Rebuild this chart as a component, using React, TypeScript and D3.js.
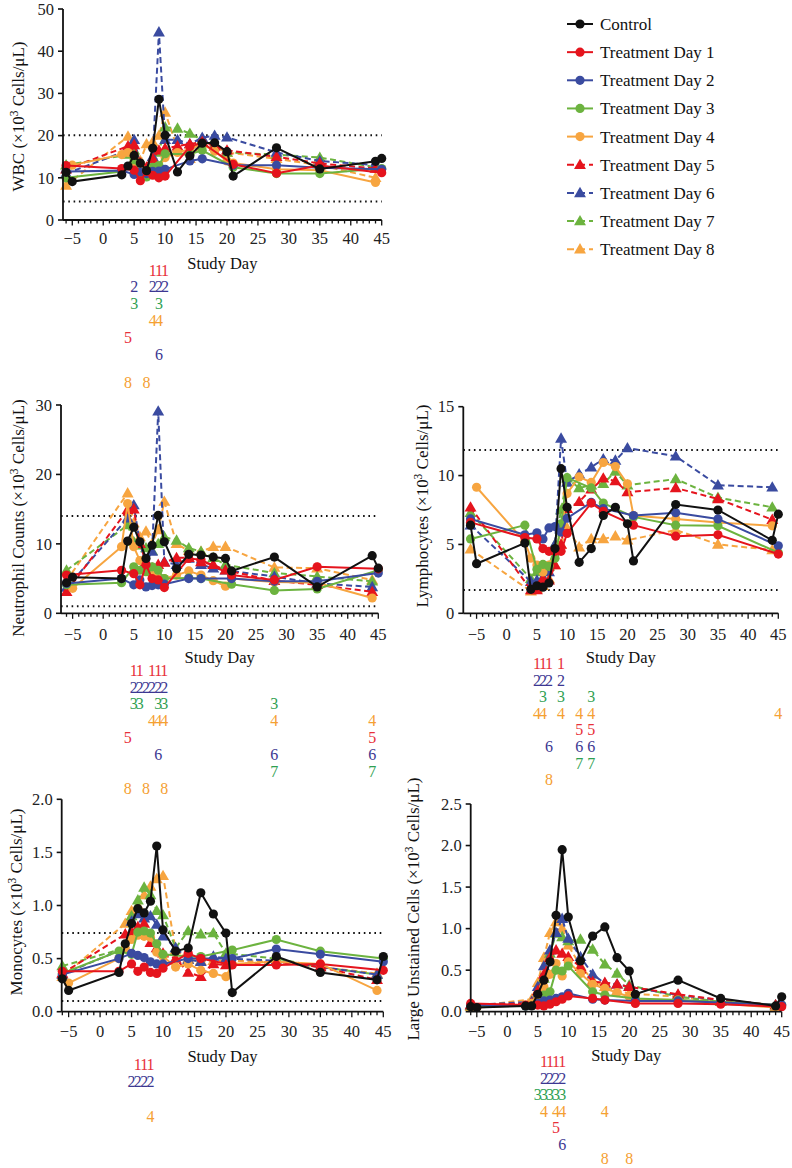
import * as d3 from "d3";

// series: control + 8 treatment groups
const SERIES = [
  { label: "Control", color: "#111111", digit: "#111111", dashed: false, tri: false },
  { label: "Treatment Day 1", color: "#e5141d", digit: "#e8303a", dashed: false, tri: false },
  { label: "Treatment Day 2", color: "#3a4ba0", digit: "#3c3791", dashed: false, tri: false },
  { label: "Treatment Day 3", color: "#6cb33f", digit: "#2f9f52", dashed: false, tri: false },
  { label: "Treatment Day 4", color: "#f7a540", digit: "#f5a032", dashed: false, tri: false },
  { label: "Treatment Day 5", color: "#e5141d", digit: "#e8303a", dashed: true, tri: true },
  { label: "Treatment Day 6", color: "#3a4ba0", digit: "#3c3791", dashed: true, tri: true },
  { label: "Treatment Day 7", color: "#6cb33f", digit: "#2f9f52", dashed: true, tri: true },
  { label: "Treatment Day 8", color: "#f7a540", digit: "#f5a032", dashed: true, tri: true },
];

// sampling days
const DAYS_CTRL = [-6, -5, 3, 4, 5, 6, 7, 8, 9, 10, 12, 14, 16, 18, 20, 21, 28, 35, 44, 45];
const DAYS_A = [-6, 3, 5, 6, 7, 8, 9, 10, 14, 16, 21, 28, 35, 45];
const DAYS_T4 = [-5, 3, 4, 5, 6, 7, 8, 9, 10, 12, 14, 16, 18, 20, 21, 28, 35, 44];
const DAYS_B = [-6, 4, 5, 6, 7, 8, 9, 10, 12, 14, 16, 18, 20, 28, 35, 44];
const SERIES_DAYS = [DAYS_CTRL, DAYS_A, DAYS_A, DAYS_A, DAYS_T4, DAYS_B, DAYS_B, DAYS_B, DAYS_B];

const X_TICKS = [-5, 0, 5, 10, 15, 20, 25, 30, 35, 40, 45];

// WBC
const WBC = [
  [11.3, 9.1, 10.7, 12.8, 15.3, 13.5, 11.7, 17.0, 28.6, 20.1, 11.4, 15.2, 18.2, 18.3, 16.2, 10.4, 17.1, 12.1, 13.9, 14.6],
  [12.9, 12.2, 11.8, 9.3, 11.5, 10.6, 10.0, 10.4, 17.4, 18.3, 13.2, 11.1, 12.9, 11.2],
  [11.5, 11.7, 10.8, 11.4, 11.0, 11.5, 11.6, 12.0, 14.0, 14.5, 13.0, 13.0, 12.4, 12.0],
  [10.0, 11.5, 14.3, 11.0, 10.2, 12.5, 12.9, 15.7, 15.6, 16.5, 12.5, 11.0, 11.0, 12.2],
  [13.0, 15.5, 16.0, 13.8, 12.3, 11.5, 11.8, 12.5, 14.8, 16.0, 16.8, 18.0, 16.3, 14.0, 13.5, 12.0, 11.8, 8.9],
  [12.0, 17.5, 17.8, 13.5, 12.5, 14.5, 16.5, 17.0, 17.5, 18.0, 18.5, 17.5, 16.5, 15.0, 13.4, 12.2],
  [11.0, 16.5, 19.0, 13.0, 12.0, 15.0, 44.5, 19.0, 19.0, 18.0, 19.5, 20.0, 19.6, 16.0, 14.0, 13.0],
  [13.0, 15.5, 16.5, 13.0, 12.0, 12.5, 16.0, 22.0, 21.7, 20.5, 19.0, 18.0, 16.0, 15.5, 14.8, 12.5],
  [8.2, 19.8, 16.0, 14.0, 18.0, 18.5, 20.0, 25.5, 17.0, 14.5, 18.2, 17.5, 16.0, 14.5, 13.0, 10.0],
];
const WBC_REF = [20.1, 4.4];
const WBC_TICKS = [0, 10, 20, 30, 40, 50];
const WBC_SIG = [[8, 9, 10], [5, 8, 9, 10], [5, 9], [8, 9], [4], [9], [], [4, 7]];

// Neutrophils
const NEU = [
  [4.4, 5.2, 5.0, 10.4, 12.4, 10.3, 7.9, 9.8, 14.1, 10.3, 6.4, 8.5, 8.4, 8.1, 7.9, 6.1, 8.1, 3.8, 8.3, 6.5],
  [5.5, 6.2, 5.7, 4.1, 7.0, 5.0, 4.8, 3.7, 7.9, 7.7, 5.5, 4.8, 6.7, 6.4],
  [4.3, 5.0, 4.1, 4.8, 3.8, 4.0, 4.1, 4.2, 5.0, 5.0, 5.0, 4.6, 4.6, 5.8],
  [4.1, 4.4, 6.7, 6.2, 6.0, 6.7, 6.2, 5.0, 5.1, 5.0, 4.2, 3.3, 3.5, 6.2],
  [3.6, 9.6, 15.8, 9.6, 7.6, 6.5, 5.5, 5.2, 5.0, 5.5, 6.1, 5.5, 4.7, 3.9, 5.0, 4.5, 4.4, 2.2],
  [3.1, 14.9, 15.0, 10.0, 7.4, 6.5, 7.0, 7.3, 8.0, 8.0, 7.4, 7.0, 6.2, 4.7, 4.1, 3.1],
  [3.7, 13.7, 15.6, 10.0, 7.4, 8.9, 29.1, 7.4, 7.0, 7.9, 7.0, 6.5, 6.2, 5.3, 4.3, 3.8],
  [6.2, 12.7, 10.3, 9.8, 9.4, 9.0, 10.0, 11.0, 10.5, 9.4, 8.9, 8.0, 7.0, 5.8, 5.3, 4.6],
  [4.7, 17.3, 13.0, 11.0, 11.8, 10.0, 12.0, 16.1, 10.0, 9.0, 8.9, 9.6, 9.6, 6.6, 6.5, 4.8],
];
const NEU_REF = [14.0, 1.0];
const NEU_TICKS = [0, 10, 20, 30];
const NEU_SIG = [[5, 6, 8, 9, 10], [5, 6, 7, 8, 9, 10], [5, 6, 9, 10, 28], [8, 9, 10, 28, 44], [4, 44], [9, 28, 44], [28, 44], [4, 7, 10]];

// Lymphocytes
const LYM = [
  [6.4, 3.6, 5.1, 1.74, 2.0, 1.9, 2.2, 4.7, 10.5, 7.7, 3.7, 4.7, 7.1, 7.7, 6.5, 3.8, 7.9, 7.5, 5.3, 7.2],
  [6.6, 5.5, 5.4, 4.7, 4.5, 4.5, 4.5, 5.8, 8.0, 7.4, 6.4, 5.6, 5.7, 4.3],
  [6.85, 5.7, 5.85, 5.4, 6.2, 6.3, 5.9, 6.9, 8.05, 7.6, 7.1, 7.3, 6.85, 4.9],
  [5.4, 6.4, 3.2, 3.55, 3.4, 4.0, 6.5, 9.85, 9.1, 8.0, 7.0, 6.4, 6.35, 4.4],
  [9.15, 5.2, 4.0, 3.5, 3.0, 3.5, 4.5, 6.0, 8.7, 9.9, 9.5, 10.95, 10.65, 9.4, 7.1, 6.85, 6.6, 6.35],
  [7.7, 1.7, 1.7, 2.5, 2.4, 3.5, 5.0, 7.6, 8.1, 9.0, 9.8, 9.6, 8.8, 9.1, 8.3, 6.8],
  [6.4, 2.3, 2.4, 2.6, 3.0, 5.0, 12.7, 9.5, 10.1, 10.6, 11.2, 11.1, 12.0, 11.4, 9.3, 9.15],
  [7.3, 2.5, 3.0, 3.2, 3.4, 5.0, 7.5, 9.8, 9.1, 9.3, 9.4, 10.3, 9.3, 9.75, 8.4, 7.7],
  [4.65, 1.6, 1.8, 2.0, 2.5, 3.5, 5.0, 6.2, 4.8, 5.4, 5.4, 5.6, 5.3, 6.05, 5.0, 4.6],
];
const LYM_REF = [11.85, 1.7];
const LYM_TICKS = [0, 5, 10, 15];
const LYM_SIG = [[5, 6, 7, 9], [5, 6, 7, 9], [6, 9, 14], [5, 6, 9, 12, 14, 45], [12, 14], [7, 12, 14], [12, 14], [7]];

// Monocytes
const MON = [
  [0.31, 0.2, 0.37, 0.64, 0.83, 0.97, 0.93, 1.04, 1.56, 0.77, 0.57, 0.6, 1.12, 0.92, 0.74, 0.18, 0.52, 0.37, 0.3, 0.52],
  [0.38, 0.38, 0.45, 0.38, 0.42, 0.37, 0.36, 0.41, 0.55, 0.5, 0.44, 0.44, 0.45, 0.39],
  [0.35, 0.5, 0.55, 0.53, 0.51, 0.47, 0.45, 0.45, 0.5, 0.5, 0.5, 0.59, 0.54, 0.47],
  [0.36, 0.57, 0.54, 0.75, 0.76, 0.74, 0.64, 0.54, 0.52, 0.52, 0.58, 0.68, 0.57, 0.5],
  [0.27, 0.5, 0.6, 0.68, 0.72, 0.71, 0.7, 0.56, 0.52, 0.42, 0.45, 0.39, 0.36, 0.33, 0.45, 0.47, 0.45, 0.2],
  [0.36, 0.73, 0.75, 0.8, 0.83, 0.65, 0.6, 0.55, 0.5, 0.37, 0.33, 0.45, 0.44, 0.47, 0.42, 0.3],
  [0.35, 0.6, 0.85, 0.92, 0.88, 0.9, 0.82, 0.71, 0.6, 0.49, 0.47, 0.52, 0.5, 0.48, 0.42, 0.35],
  [0.43, 0.6, 0.9, 1.05, 1.17, 1.1, 0.95, 0.91, 0.6, 0.76, 0.73, 0.74, 0.55, 0.5, 0.42, 0.35],
  [0.33, 0.83, 0.95, 1.0, 1.1, 1.18, 1.25, 1.28, 0.58, 0.5, 0.48, 0.48, 0.48, 0.47, 0.42, 0.36],
];
const MON_REF = [0.74, 0.1];
const MON_TICKS = [0, 0.5, 1.0, 1.5, 2.0];
const MON_SIG = [[6, 7, 8], [5, 6, 7, 8], [], [8], [], [], [], []];

// Large unstained cells
const LUC = [
  [0.06, 0.05, 0.07, 0.07, 0.21, 0.38, 0.6, 1.16, 1.95, 1.14, 0.61, 0.91, 1.02, 0.65, 0.49, 0.21, 0.38, 0.16, 0.07, 0.18],
  [0.1, 0.08, 0.08, 0.07, 0.09, 0.12, 0.15, 0.19, 0.16, 0.14, 0.1, 0.1, 0.09, 0.06],
  [0.08, 0.07, 0.1, 0.13, 0.14, 0.16, 0.18, 0.22, 0.15, 0.14, 0.13, 0.13, 0.11, 0.08],
  [0.07, 0.07, 0.1, 0.2, 0.24, 0.5, 0.49, 0.55, 0.24, 0.2, 0.16, 0.14, 0.12, 0.08],
  [0.05, 0.08, 0.1, 0.15, 0.3, 0.45, 0.58, 0.43, 0.6, 0.46, 0.33, 0.28, 0.23, 0.18, 0.15, 0.14, 0.1, 0.05],
  [0.08, 0.1, 0.25, 0.45, 0.65, 0.74, 0.7, 0.66, 0.54, 0.36, 0.35, 0.33, 0.3, 0.21, 0.14, 0.08],
  [0.08, 0.12, 0.3, 0.55, 0.74, 0.95, 1.12, 0.88, 0.66, 0.45, 0.34, 0.33, 0.3, 0.2, 0.14, 0.08],
  [0.07, 0.1, 0.2, 0.4, 0.7, 0.94, 0.9, 0.85, 0.87, 0.75, 0.57, 0.46, 0.32, 0.18, 0.12, 0.08],
  [0.06, 0.15, 0.35, 0.65, 0.95, 1.08, 1.0, 0.8, 0.55, 0.38, 0.3, 0.25, 0.22, 0.18, 0.12, 0.06],
];
const LUC_TICKS = [0, 0.5, 1.0, 1.5, 2.0, 2.5];
const LUC_SIG = [[6, 7, 8, 9], [6, 7, 8, 9], [5, 6, 7, 8, 9], [6, 8, 9, 16], [8], [9], [], [16, 20]];

const FONT = "Liberation Serif, DejaVu Serif, serif";

const PANELS = [
  { title: "WBC", vals: WBC, ref: WBC_REF, ticks: WBC_TICKS, fmt: d3.format("d"), sig: WBC_SIG,
    left: 63, right: 381.7, d0: -6.5, top: 9, bottom: 220, yMax: 50, tx: 18, ty: 116.5,
    lab: 18, sd: 43, sBase: 270, sStep: 16.8, sMax: 382 },
  { title: "Neutrophil Counts", vals: NEU, ref: NEU_REF, ticks: NEU_TICKS, fmt: d3.format("d"), sig: NEU_SIG,
    left: 61, right: 378.3, d0: -6.9, top: 405, bottom: 613.3, yMax: 30, tx: 18, ty: 518,
    lab: 21, sd: 43.5, sBase: 670, sStep: 16.9, sMax: 5000 },
  { title: "Lymphocytes", vals: LYM, ref: LYM_REF, ticks: LYM_TICKS, fmt: d3.format("d"), sig: LYM_SIG,
    left: 463.3, right: 778.3, d0: -7.2, top: 406.7, bottom: 613.3, yMax: 15, tx: 422, ty: 506,
    lab: 21, sd: 43.5, sBase: 663.3, sStep: 16.6, sMax: 5000 },
  { title: "Monocytes", vals: MON, ref: MON_REF, ticks: MON_TICKS, fmt: d3.format(".1f"), sig: MON_SIG,
    left: 61.7, right: 383.3, d0: -6.1, top: 799.3, bottom: 1011.7, yMax: 2.0, tx: 16, ty: 902,
    lab: 20, sd: 45, sBase: 1064.3, sStep: 17.5, sMax: 5000 },
  { title: "Large Unstained Cells", vals: LUC, ref: [] as number[], ticks: LUC_TICKS, fmt: d3.format(".1f"), sig: LUC_SIG,
    left: 470.7, right: 781.7, d0: -6, top: 804, bottom: 1011.7, yMax: 2.5, tx: 413, ty: 909,
    lab: 20, sd: 43.5, sBase: 1061.7, sStep: 16.5, sMax: 1158 },
];

const DRAW_ORDER = [8, 7, 6, 5, 4, 3, 2, 1, 0];
const triPath = d3.symbol().type(d3.symbolTriangle).size(62)() as string;

function Marker({ s, cx, cy }: { s: typeof SERIES[number]; cx: number; cy: number }) {
  return s.tri ? (
    <path d={triPath} transform={`translate(${cx},${cy + 0.8})`} fill={s.color} />
  ) : (
    <circle cx={cx} cy={cy} r={4.6} fill={s.color} />
  );
}

function Panel({ p }: { p: typeof PANELS[number] }) {
  const x = d3.scaleLinear().domain([p.d0, 45]).range([p.left, p.right]);
  const y = d3.scaleLinear().domain([0, p.yMax]).range([p.bottom, p.top]);
  const line = d3.line<[number, number]>().x((d) => x(d[0])).y((d) => y(d[1]));
  const minor = d3.range(-6, 46);

  return (
    <g>
      {/* reference range */}
      {p.ref.map((r, i) => (
        <line key={i} x1={p.left} x2={p.right} y1={y(r)} y2={y(r)} stroke="#111" strokeWidth={2}
          strokeDasharray="1.6,3.7" />
      ))}

      {/* series */}
      {DRAW_ORDER.map((si) => {
        const s = SERIES[si];
        const pts: [number, number][] = SERIES_DAYS[si].map((d, i) => [d, p.vals[si][i]]);
        return (
          <g key={si}>
            <path d={line(pts) ?? ""} fill="none" stroke={s.color} strokeWidth={2}
              strokeDasharray={s.dashed ? "6,3.5" : undefined} />
            {pts.map((d, i) => <Marker key={i} s={s} cx={x(d[0])} cy={y(d[1])} />)}
          </g>
        );
      })}

      {/* axes */}
      <line x1={p.left} x2={p.left} y1={p.top} y2={p.bottom} stroke="#111" strokeWidth={1.8} />
      <line x1={p.left} x2={p.right} y1={p.bottom} y2={p.bottom} stroke="#111" strokeWidth={1.8} />
      {p.ticks.map((t) => (
        <g key={t}>
          <line x1={p.left - 5} x2={p.left} y1={y(t)} y2={y(t)} stroke="#111" strokeWidth={1.6} />
          <text x={p.left - 9} y={y(t)} dy="0.35em" textAnchor="end" fontSize={16.5} fill="#222">
            {p.fmt(t)}
          </text>
        </g>
      ))}
      {minor.map((d) => (
        <line key={d} x1={x(d)} x2={x(d)} y1={p.bottom} y2={p.bottom + (d % 5 === 0 ? 5.5 : 3.5)}
          stroke="#111" strokeWidth={1.3} />
      ))}
      {X_TICKS.map((t) => (
        <text key={t} x={x(t)} y={p.bottom + p.lab} dy="0.35em" textAnchor="middle" fontSize={16.5} fill="#222">
          {t < 0 ? `\u2212${Math.abs(t)}` : t}
        </text>
      ))}
      <text x={(p.left + p.right) / 2} y={p.bottom + p.sd} dy="0.35em" textAnchor="middle" fontSize={16.5} fill="#111">
        Study Day
      </text>
      <text transform={`translate(${p.tx},${p.ty}) rotate(-90)`} dy="0.35em" textAnchor="middle" fontSize={17} fill="#111">
        {p.title} (×10<tspan dy={-6} fontSize={11.5}>3</tspan><tspan dy={6}> Cells/μL)</tspan>
      </text>

      {/* significance markers by treatment group */}
      {p.sig.map((days, g) =>
        days.map((d) => (
          <text key={`${g}-${d}`} x={x(d)} y={Math.min(p.sBase + g * p.sStep, p.sMax)} dy="0.35em"
            textAnchor="middle" fontSize={16} fill={SERIES[g + 1].digit}>
            {g + 1}
          </text>
        ))
      )}
    </g>
  );
}

function Legend() {
  return (
    <g>
      {SERIES.map((s, i) => {
        const cy = 24 + i * 28.15;
        return (
          <g key={s.label}>
            <line x1={567} x2={593} y1={cy} y2={cy} stroke={s.color} strokeWidth={2}
              strokeDasharray={s.dashed ? "7,4" : undefined} />
            <Marker s={s} cx={580} cy={cy} />
            <text x={600} y={cy} dy="0.35em" fontSize={17} fill="#111">{s.label}</text>
          </g>
        );
      })}
    </g>
  );
}

export default function App() {
  return (
    <svg width={792} height={1168}
      style={{ position: "absolute", left: 0, top: 0, background: "#fff", fontFamily: FONT }}>
      <rect width={792} height={1168} fill="#fff" />
      {PANELS.map((p) => <Panel key={p.title} p={p} />)}
      <Legend />
    </svg>
  );
}
